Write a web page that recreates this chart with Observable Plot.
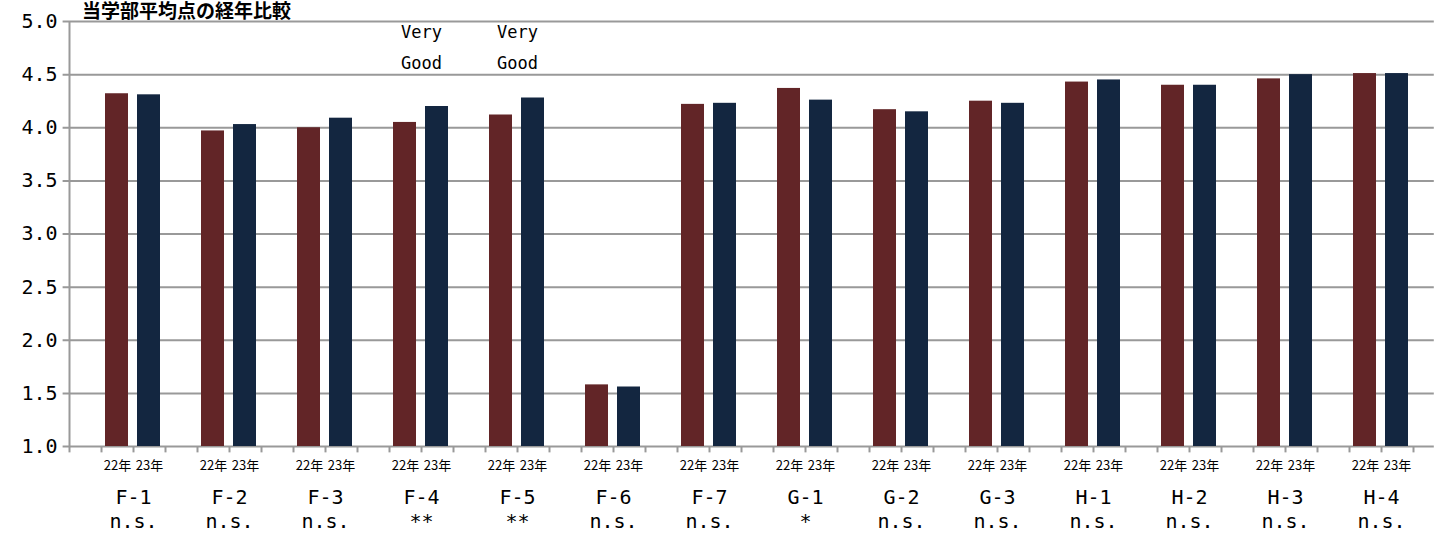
<!DOCTYPE html>
<html><head><meta charset="utf-8">
<script src="https://cdn.jsdelivr.net/npm/d3@7"></script>
<script src="https://cdn.jsdelivr.net/npm/@observablehq/plot@0.6"></script>
<style>body{margin:0;background:#fff;overflow:hidden}#t{position:absolute;left:82px;top:0px;font:bold 19px/1 "Noto Sans CJK JP";}</style>
</head><body><div id="t">当学部平均点の経年比較</div><div id="c"></div>
<script>
const categories=["F-1","F-2","F-3","F-4","F-5","F-6","F-7","G-1","G-2","G-3","H-1","H-2","H-3","H-4"];
const sig=["n.s.","n.s.","n.s.","**","**","n.s.","n.s.","*","n.s.","n.s.","n.s.","n.s.","n.s.","n.s."];
const y22=[4.32,3.97,4.00,4.05,4.12,1.58,4.22,4.37,4.17,4.25,4.43,4.40,4.46,4.51];
const y23=[4.31,4.03,4.09,4.20,4.28,1.56,4.23,4.26,4.15,4.23,4.45,4.40,4.50,4.51];
const notes=[{c:"F-4",t:["Very","Good"]},{c:"F-5",t:["Very","Good"]}];
const yearLabels=["22年","23年"];
const bars=[];
categories.forEach((c,i)=>{bars.push({x:i*3+1,v:y22[i],k:0});bars.push({x:i*3+2,v:y23[i],k:1});});
const font='"DejaVu Sans Mono", monospace';
const p=Plot.plot({width:1434,height:535,marginLeft:69,marginRight:21,marginTop:21,marginBottom:89,
 x:{domain:[0,42],axis:null},
 y:{domain:[1,5],axis:null,clamp:false},
 style:{fontFamily:font,fontSize:"20px",color:"#000"},
 marks:[
  Plot.axisY({ticks:[1,1.5,2,2.5,3,3.5,4,4.5,5],tickFormat:d=>d.toFixed(1),tickSize:0,tickPadding:12,label:null,fontSize:20,fontFamily:font}),
  Plot.ruleY([1,1.5,2,2.5,3,3.5,4,4.5,5],{stroke:"#999",strokeWidth:2,x1:-0.2,x2:42.65}),
  Plot.ruleX([0],{y1:1,y2:5,stroke:"#999",strokeWidth:2}),
  Plot.ruleX(d3.range(0,43),{y1:1,y2:0.94,stroke:"#999",strokeWidth:2}),
  Plot.rectY(bars,{x1:"x",x2:d=>d.x+1,y1:1,y2:"v",insetLeft:4,insetRight:5,fill:d=>d.k?"#132640":"#622527"}),
  Plot.text(bars,{x:d=>d.x+0.5,y:1,dy:19,text:d=>yearLabels[d.k],fontSize:13,fontFamily:'"Noto Sans CJK JP"'}),
  Plot.text(categories,{x:(d,i)=>i*3+2,y:1,dy:51,text:d=>d,fontSize:20}),
  Plot.text(sig,{x:(d,i)=>i*3+2,y:1,dy:75,text:d=>d,fontSize:20}),
  Plot.text(notes,{x:d=>categories.indexOf(d.c)*3+2,y:5,dy:11,text:d=>d.t[0],fontSize:17}),
  Plot.text(notes,{x:d=>categories.indexOf(d.c)*3+2,y:5,dy:42,text:d=>d.t[1],fontSize:17})
 ]});
document.getElementById("c").append(p);
</script></body></html>
